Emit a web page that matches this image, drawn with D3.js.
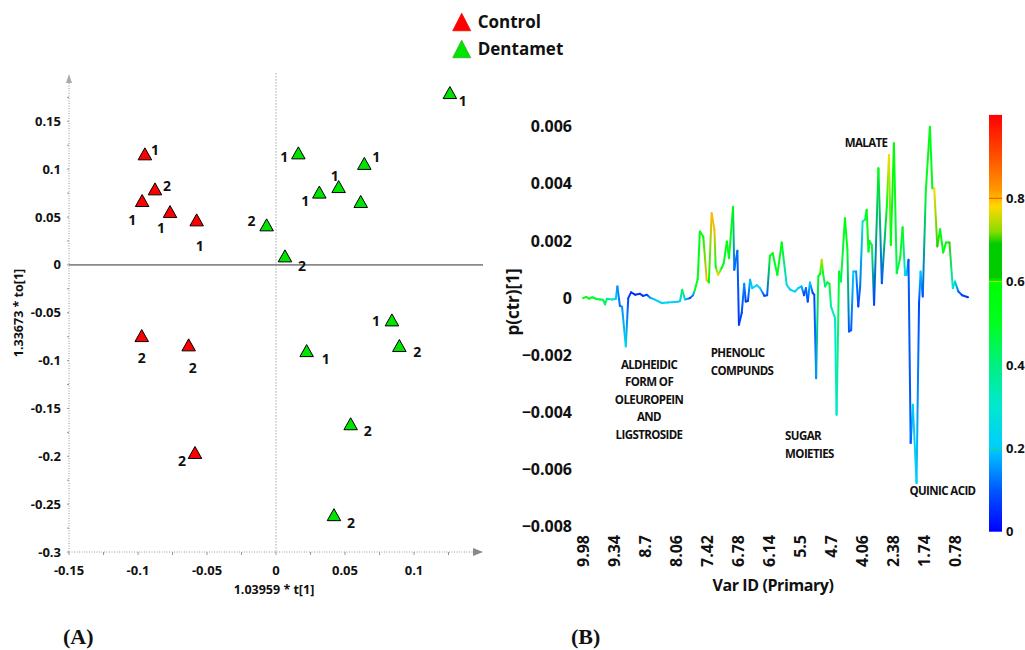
<!DOCTYPE html>
<html>
<head>
<meta charset="utf-8">
<script src="https://cdn.jsdelivr.net/npm/d3@7"></script>
<style>
  body { margin: 0; background: #fff; }
  text { font-family: "Open Sans", sans-serif; font-weight: 700; fill: #111; }
</style>
</head>
<body>
<script>
const width = 1025;
const height = 650;

// ---------- panel A : OPLS-DA score plot ----------
const groups = ['Control', 'Dentamet'];
const groupColors = ['#ff0000', '#00e400'];

const controlT = [-0.095, -0.0877, -0.097, -0.0768, -0.0575, -0.0973, -0.0633, -0.0587];
const controlTo = [0.116, 0.0794, 0.0672, 0.0557, 0.047, -0.0739, -0.0836, -0.196];
const controlObs = ['1', '2', '1', '1', '1', '2', '2', '2'];

const dentaT = [0.126, 0.0162, 0.064, 0.0454, 0.0314, 0.0614, -0.0068, 0.0065, 0.084, 0.0894, 0.0222, 0.0541, 0.042];
const dentaTo = [0.180, 0.117, 0.106, 0.0818, 0.076, 0.0662, 0.0418, 0.0094, -0.0575, -0.0843, -0.0896, -0.166, -0.261];
const dentaObs = ['1', '1', '1', '1', '1', '', '2', '2', '1', '2', '1', '2', '2'];

const aXTicks = [-0.15, -0.1, -0.05, 0, 0.05, 0.1];
const aYTicks = [-0.3, -0.25, -0.2, -0.15, -0.1, -0.05, 0, 0.05, 0.1, 0.15];

// ---------- panel B : loading line p(ctr)[1] ----------
// position along the variable axis (variable index) / loading (x 1e-3) / correlation |p(corr)|
const varIdx = [0, 1, 2, 3, 4.2, 5.5, 6.5, 7.1, 7.7, 9.4, 10.6, 11.1, 11.9, 12.6, 13.8, 14.6, 15.5, 16.8, 18.4, 19.4,
  20.6, 21.6, 23.2, 25.4, 27.4, 30.6, 31.3, 32.0, 32.9, 34.5, 35.5, 36.1, 37.0, 37.7, 38.8, 39.9, 40.6, 41.5, 42.4, 42.8,
  43.6, 44.7, 45.4, 46.4, 47.1, 48.4, 48.8, 49.8, 50.3, 51.2, 52.0, 52.5, 53.2, 53.9, 54.6, 56.1, 57.1, 58.5, 59.4, 60.3,
  61.2, 62.7, 64.1, 65.7, 66.8, 68.4, 69.4, 70.5, 71.3, 71.9, 72.5, 73.2, 74.1, 74.6, 75.2, 75.9, 76.5, 77.0, 77.4, 78.1,
  78.8, 79.5, 80.0, 81.3, 81.8, 82.6, 83.2, 84.5, 85.3, 85.8, 86.5, 87.2, 88.1, 88.8, 89.4, 90.2, 91.0, 91.5, 92.1, 92.4,
  93.2, 93.9, 95.3, 96.4, 98.0, 98.7, 99.3, 100.3, 101.2, 102.3, 103.1, 103.9, 104.4, 105.0, 105.7, 106.4, 107.6, 108.4, 108.9, 109.6,
  110.6, 111.9, 112.7, 113.3, 114.3, 115.2, 116.2, 117.1, 118.2, 119.3, 120.0, 121.1, 122.3, 124.2];
const loadingE3 = [0.00, 0.04, -0.02, 0.03, -0.02, -0.05, -0.06, -0.22, -0.02, -0.05, -0.02, 0.41, -0.27, -0.30, -1.69, 0.00, 0.20, 0.12, 0.15, 0.08,
  0.12, 0.02, -0.05, -0.17, -0.15, -0.13, -0.10, 0.29, -0.05, 0.00, 0.10, 0.29, 0.66, 2.33, 2.15, 0.64, 0.55, 2.97, 2.39, 1.10,
  0.81, 1.05, 1.22, 1.98, 1.40, 3.20, 0.99, 1.66, -0.93, -0.52, 0.50, -0.12, -0.10, 0.64, 0.35, 0.45, 0.35, 0.08, 0.10, 1.48,
  1.57, 0.81, 1.95, 0.47, 0.30, 0.23, 0.35, 0.41, 0.10, 0.35, -0.12, 0.55, 0.18, 0.12, -2.80, 0.76, 0.85, 1.34, 0.90, 0.41,
  0.55, 0.50, -0.29, -0.70, -4.08, 0.93, 0.58, 2.80, 1.69, -1.17, -1.12, 0.93, 0.93, -0.29, 0.40, 2.68, 2.75, 3.09, 1.63, 2.00,
  1.85, -0.23, 4.55, 0.52, 3.20, 5.01, 1.86, 5.42, 0.87, 1.40, 2.48, 0.81, 0.81, 1.34, -5.07, -3.73, -6.47, -0.17, 0.93, 0.06,
  3.79, 6.00, 3.85, 3.85, 1.81, 2.41, 1.60, 1.95, 1.95, 0.35, 0.58, 0.23, 0.10, 0.03];
const corr = [0.55, 0.55, 0.55, 0.5, 0.5, 0.45, 0.45, 0.45, 0.4, 0.3, 0.2, 0.15, 0.12, 0.15, 0.25, 0.08, 0.05, 0.05, 0.06, 0.06,
  0.08, 0.15, 0.2, 0.22, 0.22, 0.22, 0.2, 0.45, 0.2, 0.08, 0.15, 0.5, 0.55, 0.55, 0.6, 0.8, 0.55, 0.8, 0.8, 0.55,
  0.78, 0.55, 0.5, 0.55, 0.5, 0.55, 0.12, 0.12, 0.06, 0.08, 0.15, 0.06, 0.08, 0.18, 0.22, 0.22, 0.2, 0.08, 0.1, 0.55,
  0.55, 0.5, 0.55, 0.25, 0.22, 0.2, 0.2, 0.18, 0.08, 0.12, 0.08, 0.2, 0.08, 0.08, 0.15, 0.5, 0.55, 0.75, 0.55, 0.4,
  0.45, 0.5, 0.35, 0.3, 0.3, 0.5, 0.45, 0.55, 0.5, 0.1, 0.1, 0.2, 0.15, 0.08, 0.12, 0.3, 0.45, 0.55, 0.55, 0.5,
  0.45, 0.08, 0.55, 0.1, 0.55, 0.78, 0.55, 0.6, 0.45, 0.5, 0.55, 0.25, 0.2, 0.1, 0.1, 0.2, 0.22, 0.08, 0.2, 0.1,
  0.5, 0.55, 0.55, 0.78, 0.7, 0.55, 0.55, 0.55, 0.7, 0.3, 0.25, 0.12, 0.08, 0.05];

const bXLabels = ['9.98', '9.34', '8.7', '8.06', '7.42', '6.78', '6.14', '5.5', '4.7', '4.06', '2.38', '1.74', '0.78'];
const bXLabelIdx = [0, 10, 20, 30, 40, 50, 60, 70, 80, 90, 100, 110, 120];
const bYTicks = [-0.008, -0.006, -0.004, -0.002, 0, 0.002, 0.004, 0.006];
const colorTicks = [0, 0.2, 0.4, 0.6, 0.8];

// annotations: lines of text, anchored at (variable index, loading x 1e-3)
const notes = [
  { lines: ['ALDHEIDIC', 'FORM OF', 'OLEUROPEIN', 'AND', 'LIGSTROSIDE'], idx: 21.3, v: -2.33, anchor: 'middle' },
  { lines: ['PHENOLIC', 'COMPUNDS'], idx: 41.2, v: -1.92, anchor: 'start' },
  { lines: ['SUGAR', 'MOIETIES'], idx: 65.2, v: -4.84, anchor: 'start' },
  { lines: ['QUINIC ACID'], idx: 105.3, v: -6.76, anchor: 'start' },
  { lines: ['MALATE'], idx: 91.3, v: 5.43, anchor: 'middle' }
];

const svg = d3.select('body').append('svg')
  .attr('width', width)
  .attr('height', height);
const defs = svg.append('defs');

// triangle path centred on its box
const tri = (w, h) => `M0,${-h / 2}L${w / 2},${h / 2}L${-w / 2},${h / 2}Z`;

// ================= PANEL A =================
const xA = d3.scaleLinear().domain([-0.15, 0.15]).range([69, 483]);
const yA = d3.scaleLinear().domain([-0.3, 0.19]).range([552, 83]);

const gA = svg.append('g');

// axes lines (dotted), zero lines
gA.append('line').attr('x1', xA(-0.15)).attr('x2', xA(-0.15)).attr('y1', yA(0.19)).attr('y2', yA(-0.3))
  .attr('stroke', '#999').attr('stroke-dasharray', '1,1.5');
gA.append('line').attr('x1', xA(-0.15)).attr('x2', xA(0.15) - 6).attr('y1', yA(-0.3)).attr('y2', yA(-0.3))
  .attr('stroke', '#999').attr('stroke-dasharray', '1,1.5');
gA.append('line').attr('x1', xA(0)).attr('x2', xA(0)).attr('y1', yA(0.2)).attr('y2', yA(-0.3))
  .attr('stroke', '#777').attr('stroke-dasharray', '1,2');
gA.append('line').attr('x1', xA(-0.15)).attr('x2', xA(0.15)).attr('y1', yA(0)).attr('y2', yA(0))
  .attr('stroke', '#8a8a8a').attr('stroke-width', 1.6);

// arrow heads
gA.append('path').attr('d', `M${xA(-0.15) - 3},${yA(0.19)}L${xA(-0.15)},${yA(0.19) - 9}L${xA(-0.15) + 3},${yA(0.19)}Z`).attr('fill', '#aaa');
gA.append('path').attr('d', `M${xA(0.15) - 10},${yA(-0.3) - 4}L${xA(0.15)},${yA(-0.3)}L${xA(0.15) - 10},${yA(-0.3) + 4}Z`).attr('fill', '#888');

// minor / major ticks
const minorX = d3.range(-6, 6).map(i => i * 0.025);
gA.selectAll('line.xt').data(minorX).join('line')
  .attr('x1', d => xA(d)).attr('x2', d => xA(d)).attr('y1', yA(-0.3)).attr('y2', yA(-0.3) + 3)
  .attr('stroke', '#999');
const minorY = d3.range(-12, 8).map(i => i * 0.025);
gA.selectAll('line.yt').data(minorY).join('line')
  .attr('x1', xA(-0.15) - 2).attr('x2', xA(-0.15)).attr('y1', d => yA(d)).attr('y2', d => yA(d))
  .attr('stroke', '#999');

gA.selectAll('text.xl').data(aXTicks).join('text')
  .attr('x', d => xA(d)).attr('y', 575).attr('text-anchor', 'middle')
  .style('font-size', '13px').text(d => String(d));
gA.selectAll('text.yl').data(aYTicks).join('text')
  .attr('x', 61).attr('y', d => yA(d)).attr('dy', '0.35em').attr('text-anchor', 'end')
  .style('font-size', '13px').text(d => String(d));

gA.append('text').attr('x', 274).attr('y', 594).attr('text-anchor', 'middle')
  .style('font-size', '12.5px').text('1.03959 * t[1]');
gA.append('text').attr('transform', 'translate(23,313) rotate(-90)').attr('text-anchor', 'middle')
  .style('font-size', '12.5px').text('1.33673 * to[1]');

// points
const controlOff = [[10, -4], [12, -3], [-10, 20], [-9, 17], [3, 26], [0, 23], [4, 23], [-13, 9]];
const dentaOff = [[13, 9], [-14, 4], [12, -6], [-4, -10], [-14, 9], [0, 0], [-15, -4], [17, 10], [-16, 1], [18, 7], [19, 8], [17, 7], [17, 8]];

const scores = [
  ...controlT.map((t, i) => ({ t, to: controlTo[i], obs: controlObs[i], g: 0, off: controlOff[i] })),
  ...dentaT.map((t, i) => ({ t, to: dentaTo[i], obs: dentaObs[i], g: 1, off: dentaOff[i] }))
];

gA.selectAll('path.pt').data(scores).join('path')
  .attr('transform', d => `translate(${xA(d.t)},${yA(d.to)})`)
  .attr('d', tri(13.5, 12))
  .attr('fill', d => groupColors[d.g])
  .attr('stroke', '#000').attr('stroke-width', 1);

gA.selectAll('text.obs').data(scores).join('text')
  .attr('x', d => xA(d.t) + d.off[0]).attr('y', d => yA(d.to) + d.off[1])
  .attr('dy', '0.35em').attr('text-anchor', 'middle')
  .style('font-size', '14px').text(d => d.obs);

// legend
const leg = svg.append('g').selectAll('g').data(groups).join('g')
  .attr('transform', (d, i) => `translate(461.7,${22 + i * 27})`);
leg.append('path').attr('d', tri(18, 17.5))
  .attr('fill', (d, i) => groupColors[i])
  .attr('stroke', (d, i) => i ? '#2ab52a' : '#ff0000').attr('stroke-width', 0.8);
leg.append('text').attr('x', 16).attr('dy', '0.35em').style('font-size', '17px').text(d => d);

// ================= PANEL B =================
const xB = d3.scaleLinear().domain([0, 124]).range([583, 967.4]);
const yB = d3.scaleLinear().domain([-0.008, 0.006]).range([526.7, 126.7]);

const jet = d3.scaleLinear()
  .domain([0, 0.1, 0.2, 0.3, 0.4, 0.5, 0.6, 0.61, 0.69, 0.72, 0.78, 0.82, 0.9, 1])
  .range(['#0000ff', '#0058ff', '#00ccff', '#00e8d0', '#00f080', '#00ff20', '#00ff00', '#00cc00', '#00cc00',
    '#88dd00', '#ffd800', '#ff9800', '#ff5000', '#ff0000']);

const gB = svg.append('g');

gB.selectAll('text.yl').data(bYTicks).join('text')
  .attr('x', 572).attr('y', d => yB(d)).attr('dy', '0.35em').attr('text-anchor', 'end')
  .style('font-size', '16px').text(d => d === 0 ? '0' : d3.format('.3f')(d));

gB.selectAll('text.xl').data(bXLabels).join('text')
  .attr('transform', (d, i) => `translate(${xB(bXLabelIdx[i])},535) rotate(-90)`)
  .attr('dy', '0.35em').attr('text-anchor', 'end')
  .style('font-size', '16px').text(d => d);

gB.append('text').attr('x', 773).attr('y', 585).attr('dy', '0.35em').attr('text-anchor', 'middle')
  .style('font-size', '16px').style('letter-spacing', '-0.4px').text('Var ID (Primary)');
gB.append('text').attr('transform', 'translate(513,302) rotate(-90)').attr('dy', '0.35em').attr('text-anchor', 'middle')
  .style('font-size', '17px').text('p(ctr)[1]');

// coloured loading line, one gradient per segment
const pts = varIdx.map((x, i) => ({ x: xB(x), y: yB(loadingE3[i] / 1000), c: corr[i] }));
const segs = d3.pairs(pts);

const grads = defs.selectAll('linearGradient.seg').data(segs).join('linearGradient')
  .attr('class', 'seg')
  .attr('id', (d, i) => 'seg' + i)
  .attr('gradientUnits', 'userSpaceOnUse')
  .attr('x1', d => d[0].x).attr('y1', d => d[0].y)
  .attr('x2', d => d[1].x).attr('y2', d => d[1].y);
grads.selectAll('stop').data(d => [[0, d[0].c], [1, d[1].c]]).join('stop')
  .attr('offset', d => d[0]).attr('stop-color', d => jet(d[1]));

gB.append('g').selectAll('line').data(segs).join('line')
  .attr('x1', d => d[0].x).attr('y1', d => d[0].y)
  .attr('x2', d => d[1].x).attr('y2', d => d[1].y)
  .attr('stroke', (d, i) => `url(#seg${i})`)
  .attr('stroke-width', 2)
  .attr('stroke-linecap', 'round');

// annotations
notes.forEach(n => {
  const t = gB.append('text')
    .attr('text-anchor', n.anchor)
    .style('font-size', '11.5px').style('font-weight', 700).style('letter-spacing', '-0.6px');
  n.lines.forEach((l, i) => {
    t.append('tspan').attr('x', xB(n.idx)).attr('y', yB(n.v / 1000) + i * 17.5).attr('dy', '0.35em').text(l);
  });
});

// colour bar
const cY = d3.scaleLinear().domain([0, 1]).range([531.7, 114.9]);
const cbGrad = defs.append('linearGradient').attr('id', 'cbar')
  .attr('x1', 0).attr('y1', 1).attr('x2', 0).attr('y2', 0);
cbGrad.selectAll('stop').data(jet.domain()).join('stop')
  .attr('offset', d => d).attr('stop-color', d => jet(d));
gB.append('rect').attr('x', 989).attr('y', cY(1)).attr('width', 13).attr('height', cY(0) - cY(1))
  .attr('fill', 'url(#cbar)');
const cTickCol = { 0.2: '#22dd55', 0.4: '#00e890', 0.6: '#b0e000', 0.8: '#ff4400' };
gB.selectAll('line.ct').data(colorTicks.filter(d => d > 0)).join('line')
  .attr('x1', 989).attr('x2', 1002).attr('y1', d => cY(d)).attr('y2', d => cY(d))
  .attr('stroke', d => cTickCol[d]).attr('stroke-width', 1);
gB.selectAll('text.cl').data(colorTicks).join('text')
  .attr('x', 1006).attr('y', d => cY(d)).attr('dy', '0.35em')
  .style('font-size', '13px').text(d => String(d));

// panel letters
svg.selectAll('text.panel').data(['(A)', '(B)']).join('text')
  .attr('x', (d, i) => i ? 571 : 63).attr('y', 644)
  .style('font-family', '"Liberation Serif", serif').style('font-size', '22px')
  .text(d => d);
</script>
</body>
</html>
